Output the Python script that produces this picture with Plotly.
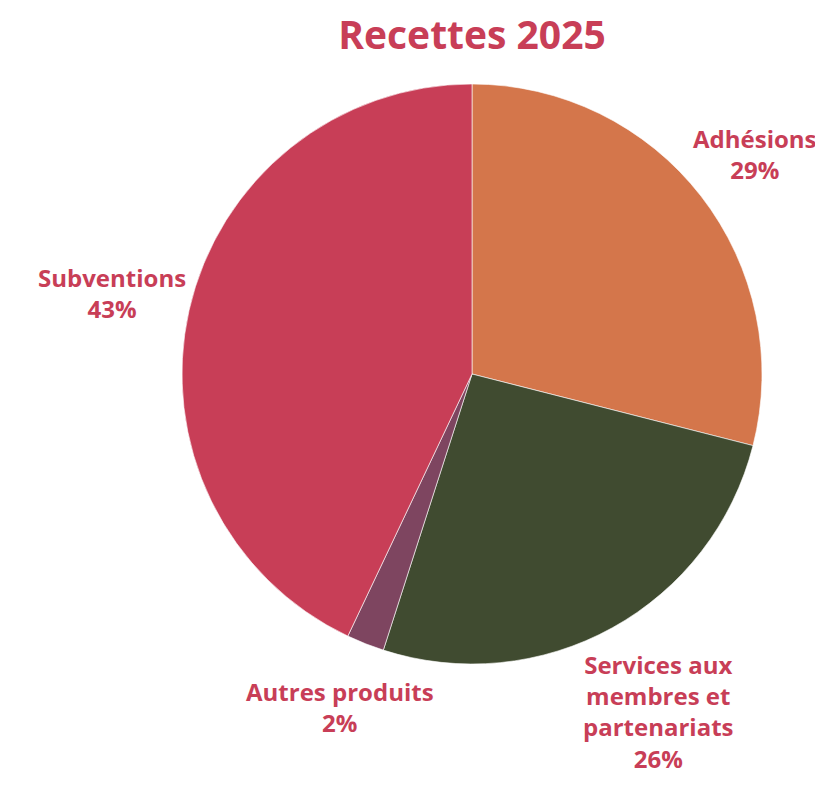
import math
import plotly.graph_objects as go

categories = ["Adhésions", "Services aux<br>membres et<br>partenariats", "Autres produits", "Subventions"]
values = [29, 26, 2.1, 43]
colors = ["#D4764B", "#404B30", "#7E4560", "#C83E57"]

TEXT_COLOR = "#C83E57"
FONT = "Open Sans"
LABEL_SIZE = 24

# plot area (pie domain) geometry in pixels
W, H = 823, 792
ML, MT, SIDE = 174, 76, 580
MR = W - ML - SIDE
MB = H - MT - SIDE
R = SIDE / 2

fig = go.Figure(go.Pie(
    labels=[c.replace("<br>", " ") for c in categories],
    values=values,
    sort=False,
    direction="clockwise",
    rotation=0,
    marker=dict(colors=colors, line=dict(color="white", width=0.6)),
    textinfo="none",
    showlegend=False,
    hoverinfo="label+percent",
))

# outside labels placed along each slice's mid-angle (chart.js-datalabels style)
total = sum(values)
cum = 0.0
annotations = []
for lab, v in zip(categories, values):
    theta = 2 * math.pi * (cum + v / 2) / total
    cum += v
    pct = round(v / total * 100)
    lines = lab.split("<br>") + [f"{pct}%"]
    hw = max(len(s) for s in lines) * 0.53 * LABEL_SIZE / 2
    hh = len(lines) * 1.3 * LABEL_SIZE / 2
    sx, cy = math.sin(theta), math.cos(theta)
    D = R + 4 + hw * abs(sx) + hh * abs(cy)
    annotations.append(dict(
        x=0.5 + sx * D / SIDE,
        y=0.5 + cy * D / SIDE,
        xref="paper", yref="paper",
        xanchor="center", yanchor="middle",
        text=f"<b>{lab}<br>{pct}%</b>",
        showarrow=False,
        align="center",
        font=dict(family=FONT, size=LABEL_SIZE, color=TEXT_COLOR),
    ))

fig.update_layout(
    width=W,
    height=H,
    margin=dict(l=ML, r=MR, t=MT, b=MB, autoexpand=False),
    paper_bgcolor="white",
    plot_bgcolor="white",
    annotations=annotations,
    title=dict(
        text="<b>Recettes 2025</b>",
        font=dict(family=FONT, size=39, color=TEXT_COLOR),
        x=0.5, xref="paper", xanchor="center",
        y=0.966, yref="container", yanchor="middle",
    ),
)

fig.write_html("out.html")
